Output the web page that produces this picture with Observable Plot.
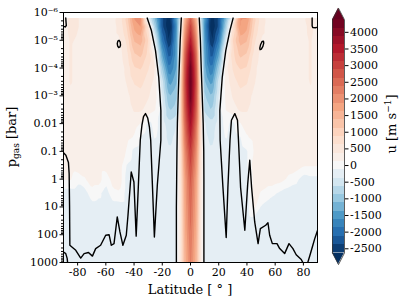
<!DOCTYPE html>
<html><head><meta charset="utf-8">
<script src="https://cdn.jsdelivr.net/npm/d3@7"></script>
<script src="https://cdn.jsdelivr.net/npm/@observablehq/plot@0.6"></script>
<style>
html,body{margin:0;padding:0;background:#fff;}
#chart{position:relative;width:407px;height:304px;font-family:"DejaVu Serif",serif;}
#chart svg{position:absolute;top:0;overflow:visible;}
</style></head><body><div id="chart"></div>
<script>
// ---- grid of zonal wind u [m/s] ----
const latitudes = [-90,-85,-80,-75,-70,-65,-60,-55,-50,-45,-40,-35,-30,-25,-20,-15,-10,-7,-4,0,4,7,10,15,20,25,30,35,40,45,50,55,60,65,70,75,80,85,90];
const logPressures = [-5.8,-5.5,-5,-4.5,-4,-3.5,-3,-2.5,-2,-1.5,-1,-0.5,0,0.5,1,1.5,2,3];
const uRows = [
 [250,450,400,250,250,250,250,300,500,1000, 1900,2000,-200,-1200,-2300,-2800,-1400,-300,1500, 2600, 1500,-400,-1400,-2800,-2300,-1200,-50,1900,1900, 1000,500,300,250,250,250,250,350,450,300],
 [250,450,400,250,250,250,250,300,450,900, 1700,1900,600,-900,-2300,-2900,-1600,-100,1800, 3000, 1800,-200,-1600,-2900,-2300,-900,600,1900,1700, 900,450,300,250,250,250,250,300,450,250],
 [250,400,350,250,250,250,250,300,350,700, 1400,1500,900,-300,-1900,-2700,-1500,150,2200, 3500, 2200,0,-1500,-2700,-1900,-400,900,1500,1400, 700,350,300,250,250,250,250,300,400,250],
 [250,400,300,250,250,250,250,250,300,550, 1100,1200,800,150,-1400,-2300,-1500,400,2600, 4000, 2600,200,-1400,-2300,-1400,150,800,1200,1100, 550,300,250,250,250,250,250,300,400,250],
 [250,400,300,250,250,250,250,250,250,450, 850,900,650,350,-900,-1900,-1400,600,2800, 4300, 2800,400,-1300,-1900,-900,300,650,900,850, 450,250,250,250,250,250,250,300,400,250],
 [250,400,300,250,250,250,250,250,250,400, 650,700,500,300,-500,-1500,-1200,800,2900, 4400, 2900,600,-1100,-1500,-500,250,500,700,650, 400,250,250,250,250,250,250,250,400,250],
 [250,300,250,250,250,250,250,250,250,300, 500,550,400,250,-350,-1150,-950,900,2800, 4300, 2800,700,-850,-1150,-350,200,400,550,500, 300,250,250,250,250,250,250,250,300,250],
 [250,250,250,250,250,250,250,250,250,250, 400,400,300,150,-250,-900,-800,900,2700, 4000, 2700,800,-700,-900,-250,150,300,400,400, 250,250,250,250,250,250,250,250,250,250],
 [250,250,250,250,250,250,250,250,250,250, 250,100,-200,-50,-250,-550,-400,850,2500, 3700, 2500,800,-350,-550,-250,-50,-200,100,250, 250,250,250,250,250,250,250,250,250,250],
 [250,250,250,250,250,250,250,250,250,200, 100,-150,-250,-100,-250,-450,-300,800,2300, 3400, 2300,750,-300,-450,-250,-100,-250,-150,100, 200,250,250,250,250,250,250,250,250,250],
 [250,250,250,250,250,250,250,250,250,100, -200,-250,-250,-200,-250,-350,-250,700,2100, 3100, 2100,700,-250,-350,-250,-200,-250,-250,-150, 150,250,250,250,250,250,250,250,250,250],
 [250,250,300,250,250,250,250,250,250,-150, -250,-250,-250,-250,-250,-300,-200,650,1950, 2900, 1950,650,-200,-300,-250,-250,-250,-250,-150, 250,250,250,250,250,250,250,150,150,150],
 [150,150,-50,100,250,250,-50,250,250,-250, -250,-250,-250,-250,-250,-250,-200,600,1800, 2700, 1800,600,-200,-250,-250,-250,-250,-250,-250, 200,250,250,250,200,50,-50,-250,-200,-200],
 [-250,-250,-250,-250,50,-50,-250,50,100,-250, -250,-250,-250,-250,-250,-250,-200,550,1750, 2600, 1750,550,-200,-250,-250,-250,-250,-250,-250, 250,100,0,-100,-200,-250,-250,-250,-250,-250],
 [-250,-250,-250,-250,-250,-250,-250,-250,-250,-250, -250,-250,-250,-250,-250,-250,-200,550,1700, 2500, 1700,550,-200,-250,-250,-250,-250,-250,-250, 200,-150,-250,-250,-250,-250,-250,-250,-250,-250],
 [-250,-250,-250,-250,-250,-250,-250,-250,-250,-250, -250,-250,-250,-250,-250,-250,-200,500,1650, 2450, 1650,500,-200,-250,-250,-250,-250,-250,-250, -250,-250,-250,-250,-250,-250,-250,-250,-250,-250],
 [-250,-250,-250,-250,-250,-250,-250,-250,-250,-250, -250,-250,-250,-250,-250,-250,-200,500,1600, 2350, 1600,500,-200,-250,-250,-250,-250,-250,-250, -250,-250,-250,-250,-250,-250,-250,-250,-250,-250],
 [-250,-250,-250,-250,-250,-250,-250,-250,-250,-250, -250,-250,-250,-250,-250,-250,-200,500,1500, 2200, 1500,500,-200,-250,-250,-250,-250,-250,-250, -250,-250,-250,-250,-250,-250,-250,-250,-250,-250]
];

// ---- u = 0 contour lines, [latitude, log10 p] ----
const jetWest = [[-6.5,-5.8],[-7.3,-5],[-8,-4],[-8.7,-3],[-9.3,-2],[-9.6,-1],[-9.8,0],[-10,1],[-10,3]];
const jetEast = [[6.2,-5.8],[7,-5],[7.6,-4],[8.3,-3],[9,-2],[9.4,-1],[9.5,0],[9.5,3]];
const outerWest = [[-90,-0.95],[-88.3,-0.86],[-86.5,-0.6],[-86,-0.2],[-85.7,1.0],[-85.5,2.38],[-83.2,2.48],[-81.3,2.56],[-77.8,2.84],[-75.4,2.68],[-72.3,2.64],[-69.5,2.77],[-67.2,2.5],[-63.7,2.38],[-60.1,2.02],[-57.7,2.0],[-56.1,2.38],[-54.2,2.32],[-51.9,1.36],[-50,1.9],[-47.9,2.38],[-45.5,2.02],[-44.3,1.3],[-42,-0.26],[-40.1,0.1],[-38.5,2.05],[-37,0.3],[-35.6,-1.4],[-34.4,-1.95],[-33.3,-2.25],[-31.9,-2.36],[-30.3,-2.2],[-29.1,-1.87],[-28.2,-1.4],[-27,0.2],[-25.6,2.08],[-23.5,0.2],[-21,-1.4],[-21,-2.47],[-22.5,-3.67],[-24.8,-4.63],[-27.7,-5.35],[-30.7,-5.8]];
const outerEast = [[30.2,-5.8],[27.9,-5.35],[25,-4.63],[22.5,-3.67],[20.8,-2.47],[21,-1.4],[23,0.3],[25.3,2.1],[26.5,0.3],[28,-1.4],[29,-2.12],[31.4,-2.36],[33.3,-2.12],[34,-1.4],[35.5,0.3],[38.5,1.84],[40.5,0.2],[42,-0.68],[43.3,0.3],[45.5,1.54],[47.9,2.32],[49.5,1.78],[53.3,1.66],[54.9,1.57],[56.1,2.02],[58,2.32],[61.3,2.32],[63.2,2.5],[66.7,2.68],[69.8,2.32],[72.6,2.5],[74.9,2.72],[78.5,2.89],[79.6,3.0]];
const loopWest = [[-51.9,-4.88],[-51.5,-4.97],[-50.6,-5.0],[-49.8,-4.93],[-49.6,-4.83],[-50.0,-4.76],[-50.9,-4.74],[-51.6,-4.79],[-51.9,-4.88]];
const loopEast = [[51.7,-4.97],[51.9,-4.9],[51.3,-4.78],[50.2,-4.68],[49.3,-4.66],[49.1,-4.72],[49.7,-4.85],[50.8,-4.96],[51.7,-4.97]];
const cornerNW = [[-88.4,-5.8],[-88.2,-5.65],[-88.0,-5.53],[-88.8,-5.48],[-90,-5.5]];
const cornerNE = [[86.2,-5.8],[86.2,-5.52],[86.6,-5.46],[88.5,-5.45],[90,-5.47]];
const cornerSW = [[-90,2.62],[-88.4,2.68],[-87.4,2.85],[-87.1,3.0]];
const cornerSE = [[83.1,3.0],[84.6,2.75],[86.7,2.38],[88,2.15],[90,1.85]];

// ---- axes / colour levels ----
const xTicks = [-80,-60,-40,-20,0,20,40,60,80];
const yTicks = [1e-6,1e-5,1e-4,1e-3,0.01,0.1,1,10,100,1000];
const yTickLabels = ["10\u207B\u2076","10\u207B\u2075","10\u207B\u2074","10\u207B\u00B3","0.01","0.1","1","10","100","1000"];
const levels = [-2625,-2375,-2125,-1875,-1625,-1375,-1125,-875,-625,-375,-125,125,375,625,875,1125,1375,1625,1875,2125,2375,2625,2875,3125,3375,3625,3875,4125,4375];
const cbTicks = [-2500,-2000,-1500,-1000,-500,0,500,1000,1500,2000,2500,3000,3500,4000];
const pTop = Math.pow(10, -5.8);

// matplotlib RdBu (linear between the 11 ColorBrewer colours), reversed, two-slope norm at 0
const rdbu = d3.piecewise(d3.interpolateRgb, ["#67001f","#b2182b","#d6604d","#f4a582","#fddbc7","#f7f7f7","#d1e5f0","#92c5de","#4393c3","#2166ac","#053061"]);
const vmin = levels[0], vmax = levels[levels.length - 1];
const norm = v => Math.max(0, Math.min(1, v < 0 ? 0.5 * (v - vmin) / (0 - vmin) : 0.5 + 0.5 * v / vmax));
const cmap = v => d3.color(rdbu(1 - norm(v))).formatHex();
const bands = levels.slice(0, -1).map((lo, i) => ({lo, hi: levels[i + 1], color: cmap((lo + levels[i + 1]) / 2)}));
const underColor = rdbu(1), overColor = rdbu(0);
const bandColors = [underColor, ...bands.map(b => b.color), overColor];

const samples = logPressures.flatMap((lp, i) => latitudes.map((lat, j) => ({lat, p: Math.pow(10, lp), u: uRows[i][j]})));
const zeroLines = [jetWest, jetEast, outerWest, outerEast, loopWest, loopEast, cornerNW, cornerNE, cornerSW, cornerSE];
const yMinor = [];
for (let k = -6; k < 3; k++) for (let m = 2; m <= 9; m++) yMinor.push(m * Math.pow(10, k));

const font = {fontFamily: '"DejaVu Serif", serif', fontSize: "11px", background: "transparent", overflow: "visible", color: "black"};

const main = Plot.plot({
  width: 330, height: 304,
  marginLeft: 63, marginRight: 13, marginTop: 12, marginBottom: 42,
  style: font,
  x: {domain: [-90, 90]},
  y: {type: "log", domain: [1e-6, 1e3], reverse: true},
  color: {type: "threshold", domain: levels, range: bandColors},
  marks: [
    Plot.contour(samples, {x: "lat", y: "p", value: "u", fill: "value", thresholds: [-1e6, ...levels],
      interpolate: "barycentric", x1: -90, x2: 90, y1: 1000, y2: pTop, stroke: "none"}),
    ...zeroLines.map(l => Plot.line(l, {x: d => d[0], y: d => Math.pow(10, d[1]), stroke: "black", strokeWidth: 1.4, clip: true})),
    Plot.frame({stroke: "black", strokeWidth: 1}),
    Plot.axisX({ticks: xTicks, tickSize: 3.5, tickPadding: 2, tickFormat: d => String(d), label: null}),
    Plot.axisY({ticks: yTicks, tickSize: 3.5, tickPadding: 2, tickFormat: d => yTickLabels[yTicks.indexOf(d)], label: null}),
    Plot.axisY({ticks: yMinor, tickSize: 2, tickFormat: () => "", label: null})
  ]
});

const tipHi = 4725, tipLo = -2975;
const topTri = [{x: 0, y1: vmax, y2: vmax}, {x: 0.5, y1: vmax, y2: tipHi}, {x: 1, y1: vmax, y2: vmax}];
const botTri = [{x: 0, y1: vmin, y2: vmin}, {x: 0.5, y1: vmin, y2: tipLo}, {x: 1, y1: vmin, y2: vmin}];
const outline = [[0, vmin], [0, vmax], [0.5, tipHi], [1, vmax], [1, vmin], [0.5, tipLo], [0, vmin]];

const cbar = Plot.plot({
  width: 87, height: 304,
  marginLeft: 12, marginRight: 63, marginTop: 7.7, marginBottom: 39.9,
  style: font,
  x: {domain: [0, 1], axis: null},
  y: {domain: [tipLo, tipHi]},
  marks: [
    Plot.rect(bands, {x1: 0, x2: 1, y1: "lo", y2: "hi", fill: "color", shapeRendering: "crispEdges"}),
    Plot.areaY(topTri, {x: "x", y1: "y1", y2: "y2", fill: overColor}),
    Plot.areaY(botTri, {x: "x", y1: "y1", y2: "y2", fill: underColor}),
    Plot.line(outline, {x: d => d[0], y: d => d[1], stroke: "#333", strokeWidth: 0.8}),
    Plot.axisY({anchor: "right", ticks: cbTicks, tickSize: 3.5, tickPadding: 2, tickFormat: d => String(d), label: null})
  ]
});

const chart = document.getElementById("chart");
main.style.left = "0px";
cbar.style.left = "320px";
chart.appendChild(main);
chart.appendChild(cbar);

const overlay = d3.create("svg").attr("width", 407).attr("height", 304)
  .style("left", "0px").style("pointer-events", "none")
  .attr("font-family", '"DejaVu Serif", serif').attr("fill", "black");
overlay.append("text").attr("x", 190).attr("y", 294).attr("text-anchor", "middle").attr("font-size", 13).text("Latitude [ \u00B0 ]");
const yl = overlay.append("text").attr("transform", "translate(16,137) rotate(-90)").attr("text-anchor", "middle").attr("font-size", 13);
yl.append("tspan").text("p");
yl.append("tspan").attr("font-size", 9).attr("dy", 3).text("gas");
yl.append("tspan").attr("dy", -3).text(" [bar]");
const cl = overlay.append("text").attr("transform", "translate(396,124) rotate(-90)").attr("text-anchor", "middle").attr("font-size", 13);
cl.append("tspan").text("u [m s");
cl.append("tspan").attr("font-size", 9).attr("dy", -5).text("\u22121");
cl.append("tspan").attr("dy", 5).text("]");
chart.appendChild(overlay.node());
</script></body></html>
